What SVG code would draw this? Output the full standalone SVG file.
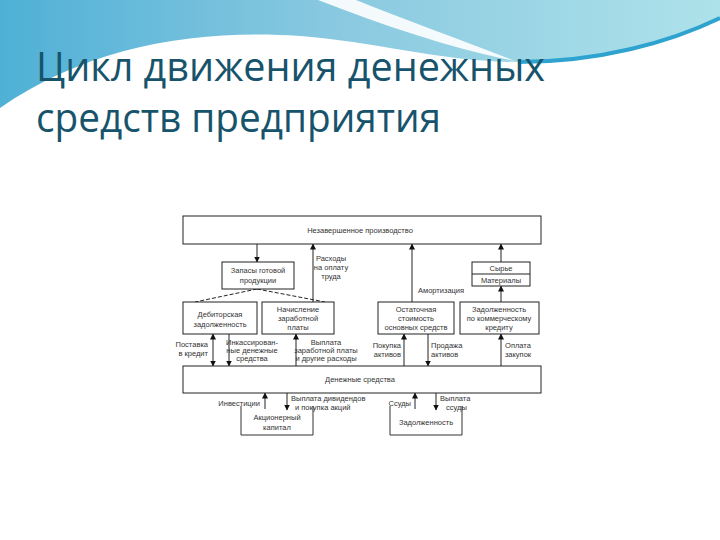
<svg xmlns="http://www.w3.org/2000/svg" width="720" height="540" viewBox="0 0 720 540">
<defs>
<linearGradient id="band" x1="0" y1="0" x2="1" y2="0">
<stop offset="0" stop-color="#4fb0d6"/>
<stop offset="0.45" stop-color="#88c8e0"/>
<stop offset="1" stop-color="#aee2ea"/>
</linearGradient>
<marker id="ah" markerWidth="6" markerHeight="6" refX="5.5" refY="3" orient="auto" markerUnits="userSpaceOnUse">
<path d="M0,0 L6,3 L0,6 Z" fill="#111"/>
</marker>
<marker id="as" markerWidth="6" markerHeight="6" refX="0.5" refY="3" orient="auto" markerUnits="userSpaceOnUse">
<path d="M6,0 L0,3 L6,6 Z" fill="#111"/>
</marker>
<style>
.box{fill:#fff;stroke:#222;stroke-width:1}
.brk{fill:none;stroke:#333;stroke-width:1}
.t{font-family:"Liberation Sans",Arial,sans-serif;font-size:7.5px;fill:#333;text-anchor:middle}
.l{text-anchor:start}
.r{text-anchor:end}
.c{stroke:#222;stroke-width:1;fill:none;marker-end:url(#ah)}
.d{stroke:#222;stroke-width:1;fill:none;stroke-dasharray:4 2}
.title{font-family:"Open Sans","Noto Sans",sans-serif;font-size:40px;fill:#17546c}
</style>
</defs>
<rect width="720" height="540" fill="#fff"/>
<g id="background">
<path d="M0,0 H720 V18 C660,45 590,62 520,62 C440,62 380,42 300,36 C200,29 90,45 0,108 Z" fill="url(#band)"/>
<path d="M318,0 C385,26 450,48 515,61 C462,40 405,20 356,0 Z" fill="#fff" opacity="0.9"/>
<path d="M518,62 C600,62 670,42 720,18" fill="none" stroke="#2fa3cf" stroke-width="4"/>
</g>
<g id="title">
<text class="title" x="36" y="81" textLength="509" lengthAdjust="spacingAndGlyphs">Цикл движения денежных</text>
<text class="title" x="36" y="132" textLength="405" lengthAdjust="spacingAndGlyphs">средств предприятия</text>
</g>
<g id="connectors">
<line class="c" x1="257" y1="244" x2="257" y2="262"/>
<line class="c" x1="313" y1="302" x2="313" y2="244"/>
<line class="d" x1="257" y1="289" x2="195" y2="302"/>
<line class="d" x1="257" y1="289" x2="325" y2="302"/>
<line class="c" x1="412" y1="302" x2="412" y2="244" stroke="#555"/>
<line class="c" x1="501" y1="262" x2="501" y2="244"/>
<line class="c" x1="501" y1="302" x2="501" y2="286"/>
<line class="c" x1="213" y1="334" x2="213" y2="366" marker-start="url(#as)"/>
<line class="c" x1="229" y1="334" x2="229" y2="366"/>
<line class="c" x1="296" y1="366" x2="296" y2="334"/>
<line class="c" x1="404" y1="366" x2="404" y2="334"/>
<line class="c" x1="428" y1="334" x2="428" y2="366"/>
<line class="c" x1="501" y1="366" x2="501" y2="334"/>
<line class="c" x1="265" y1="409" x2="265" y2="393"/>
<line class="c" x1="287" y1="393" x2="287" y2="410"/>
<line class="c" x1="415" y1="409" x2="415" y2="393"/>
<line class="c" x1="436" y1="393" x2="436" y2="410"/>
</g>
<g id="n-nezav">
<rect class="box" x="183" y="216" width="358" height="28"/>
<text class="t" x="360" y="233">Незавершенное производство</text>
</g>
<g id="n-zapasy">
<rect class="box" x="222" y="262" width="72" height="27"/>
<text class="t" x="258" y="273">Запасы готовой</text>
<text class="t" x="258" y="283">продукции</text>
</g>
<g id="n-syrye">
<rect class="box" x="472" y="262" width="58" height="24"/>
<line x1="472" y1="274" x2="530" y2="274" stroke="#222"/>
<text class="t" x="501" y="271">Сырье</text>
<text class="t" x="501" y="283">Материалы</text>
</g>
<g id="n-debit">
<rect class="box" x="183" y="302" width="74" height="32"/>
<text class="t" x="220" y="317">Дебиторская</text>
<text class="t" x="220" y="327">задолженность</text>
</g>
<g id="n-nachisl">
<rect class="box" x="262" y="302" width="72" height="32"/>
<text class="t" x="298" y="312">Начисление</text>
<text class="t" x="298" y="321">заработной</text>
<text class="t" x="298" y="330">платы</text>
</g>
<g id="n-ostat">
<rect class="box" x="378" y="302" width="76" height="32"/>
<text class="t" x="416" y="312">Остаточная</text>
<text class="t" x="416" y="321">стоимость</text>
<text class="t" x="416" y="330">основных средств</text>
</g>
<g id="n-zadkom">
<rect class="box" x="460" y="302" width="79" height="32"/>
<text class="t" x="499" y="312">Задолженность</text>
<text class="t" x="499" y="321">по коммерческому</text>
<text class="t" x="499" y="330">кредиту</text>
</g>
<g id="n-den">
<rect class="box" x="183" y="366" width="358" height="27"/>
<text class="t" x="360" y="382">Денежные средства</text>
</g>
<g id="n-akc">
<path class="brk" d="M241,406 V435 H313 V406"/>
<text class="t" x="277" y="420">Акционерный</text>
<text class="t" x="277" y="430">капитал</text>
</g>
<g id="n-zadol">
<path class="brk" d="M390,406 V435 H462 V406"/>
<text class="t" x="426" y="425">Задолженность</text>
</g>
<g id="labels">
<text class="t" x="331" y="261">Расходы</text>
<text class="t" x="331" y="270">на оплату</text>
<text class="t" x="331" y="279">труда</text>
<text class="t l" x="418" y="293">Амортизация</text>
<text class="t r" x="208" y="347">Поставка</text>
<text class="t r" x="208" y="356">в кредит</text>
<text class="t" x="252" y="345">Инкассирован-</text>
<text class="t" x="252" y="353">ные денежные</text>
<text class="t" x="252" y="361">средства</text>
<text class="t" x="326" y="345">Выплата</text>
<text class="t" x="326" y="353">заработной платы</text>
<text class="t" x="326" y="361">и другие расходы</text>
<text class="t r" x="401" y="348">Покупка</text>
<text class="t r" x="401" y="357">активов</text>
<text class="t l" x="431" y="348">Продажа</text>
<text class="t l" x="431" y="357">активов</text>
<text class="t" x="518" y="348">Оплата</text>
<text class="t" x="518" y="357">закупок</text>
<text class="t r" x="260" y="406">Инвестиции</text>
<text class="t l" x="291" y="401">Выплата дивидендов</text>
<text class="t l" x="295" y="410">и покупка акций</text>
<text class="t r" x="411" y="406">Ссуды</text>
<text class="t l" x="440" y="401">Выплата</text>
<text class="t l" x="446" y="410">ссуды</text>
</g>
</svg>
